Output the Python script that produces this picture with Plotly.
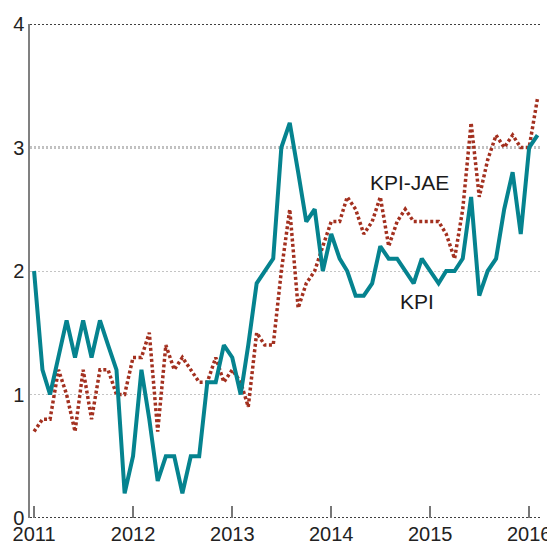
import pandas as pd
import plotly.graph_objects as go

# Monthly data, Jan 2011 - Feb 2016 (12-month change, %)
months = pd.date_range("2011-01-01", periods=62, freq="MS")

kpi = [
    2.0, 1.2, 1.0, 1.3, 1.6, 1.3, 1.6, 1.3, 1.6, 1.4, 1.2, 0.2,   # 2011
    0.5, 1.2, 0.8, 0.3, 0.5, 0.5, 0.2, 0.5, 0.5, 1.1, 1.1, 1.4,   # 2012
    1.3, 1.0, 1.4, 1.9, 2.0, 2.1, 3.0, 3.2, 2.8, 2.4, 2.5, 2.0,   # 2013
    2.3, 2.1, 2.0, 1.8, 1.8, 1.9, 2.2, 2.1, 2.1, 2.0, 1.9, 2.1,   # 2014
    2.0, 1.9, 2.0, 2.0, 2.1, 2.6, 1.8, 2.0, 2.1, 2.5, 2.8, 2.3,   # 2015
    3.0, 3.1,                                                     # 2016
]

kpi_jae = [
    0.7, 0.8, 0.8, 1.2, 1.0, 0.7, 1.2, 0.8, 1.2, 1.2, 1.0, 1.0,   # 2011
    1.3, 1.3, 1.5, 0.7, 1.4, 1.2, 1.3, 1.2, 1.1, 1.1, 1.3, 1.1,   # 2012
    1.2, 1.1, 0.9, 1.5, 1.4, 1.4, 2.0, 2.5, 1.7, 1.9, 2.0, 2.2,   # 2013
    2.4, 2.4, 2.6, 2.5, 2.3, 2.4, 2.6, 2.2, 2.4, 2.5, 2.4, 2.4,   # 2014
    2.4, 2.4, 2.3, 2.1, 2.5, 3.2, 2.6, 2.9, 3.1, 3.0, 3.1, 3.0,   # 2015
    3.0, 3.4,                                                     # 2016
]

year_ticks = ["2011-01-01", "2012-01-01", "2013-01-01", "2014-01-01", "2015-01-01", "2016-01-01"]
year_labels = ["2011", "2012", "2013", "2014", "2015", "2016"]
y_ticks = [0, 1, 2, 3, 4]
dark_grid = [0, 3, 4]

TEAL = "#05838f"
RED = "#a3301f"
FONT = "Liberation Sans, Arial, sans-serif"

fig = go.Figure()
fig.add_trace(go.Scatter(x=months, y=kpi_jae, mode="lines", name="KPI-JAE",
                         line=dict(color=RED, width=3.5, dash="3px,2.5px")))
fig.add_trace(go.Scatter(x=months, y=kpi, mode="lines", name="KPI",
                         line=dict(color=TEAL, width=4)))

for g in dark_grid:
    fig.add_shape(type="line", xref="paper", x0=0, x1=1, yref="y", y0=g, y1=g,
                  line=dict(color="#000000", width=1.4, dash="2px,2px"), layer="between")

fig.add_annotation(x="2014-10-18", y=2.72, text="KPI-JAE", showarrow=False,
                   font=dict(family=FONT, size=21, color="#1a1a1a"))
fig.add_annotation(x="2014-11-13", y=1.75, text="KPI", showarrow=False,
                   font=dict(family=FONT, size=21, color="#1a1a1a"))

# The page body has an 8px default margin, so the figure is sized to fit
fig.update_layout(
    width=547, height=536,
    margin=dict(l=22, r=15, t=16, b=26, autoexpand=False),
    paper_bgcolor="white", plot_bgcolor="white",
    showlegend=False,
    font=dict(family=FONT, size=20, color="#222222"),
    xaxis=dict(
        type="date", range=["2010-12-17", "2016-02-10"], automargin=False,
        tickmode="array", tickvals=year_ticks, ticktext=year_labels,
        ticks="inside", ticklen=12, tickwidth=1.5, tickcolor="#777777",
        ticklabelstandoff=2,
        showgrid=False, showline=False, zeroline=False,
        tickfont=dict(family=FONT, size=20, color="#222222"),
    ),
    yaxis=dict(
        range=[0, 4], tickmode="array", tickvals=y_ticks, automargin=False,
        ticktext=[str(v) for v in y_ticks],
        showgrid=True, gridcolor="#c4c4c4", gridwidth=1, griddash="2px,2px",
        showline=True, linecolor="#808080", linewidth=1.5,
        zeroline=False, ticks="",
        tickfont=dict(family=FONT, size=20, color="#222222"),
    ),
)

fig.write_html("out.html")
